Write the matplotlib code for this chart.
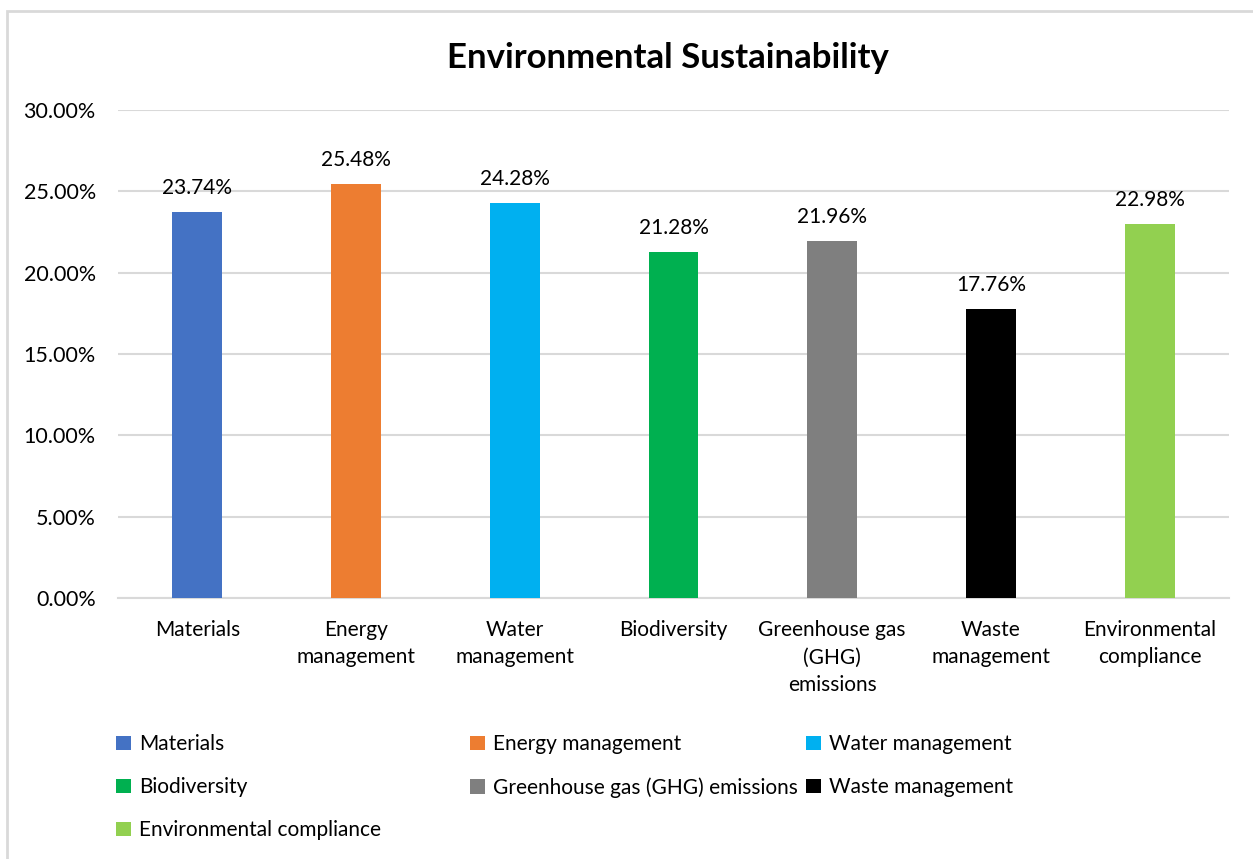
import matplotlib.pyplot as plt
from matplotlib.patches import Rectangle
from matplotlib.ticker import PercentFormatter

categories = ['Materials', 'Energy management', 'Water management', 'Biodiversity',
              'Greenhouse gas (GHG) emissions', 'Waste management', 'Environmental compliance']
tick_labels = ['Materials', 'Energy\nmanagement', 'Water\nmanagement', 'Biodiversity',
               'Greenhouse gas\n(GHG)\nemissions', 'Waste\nmanagement', 'Environmental\ncompliance']
values = [23.74, 25.48, 24.28, 21.28, 21.96, 17.76, 22.98]
colors = ['#4472C4', '#ED7D31', '#00B0F0', '#00B050', '#7F7F7F', '#000000', '#92D050']

plt.rcParams['font.family'] = ['Lato', 'DejaVu Sans']
W, H = 1253, 859
fig = plt.figure(figsize=(W / 100, H / 100), dpi=100)

# chart area border
fig.patches.append(Rectangle((7 / W, -0.1), 1.2, 1 - 11 / H + 0.1, transform=fig.transFigure,
                             fill=False, edgecolor='#d9d9d9', linewidth=2))

ax = fig.add_axes([118 / W, 1 - 598 / H, (1229 - 118) / W, (598 - 110) / H])
bars = ax.bar(range(len(values)), values, width=0.315, color=colors, zorder=3)

for b, v in zip(bars, values):
    ax.annotate(f'{v:.2f}%', (b.get_x() + b.get_width() / 2, v), xytext=(0, 10),
                textcoords='offset points', ha='center', va='bottom', fontsize=15)

ax.set_xlim(-0.5, len(values) - 0.5)
ax.set_ylim(0, 30)
ax.set_yticks([0, 5, 10, 15, 20, 25, 30])
ax.yaxis.set_major_formatter(PercentFormatter(decimals=2))
ax.set_xticks(range(len(values)))
ax.set_xticklabels(tick_labels, fontsize=15, linespacing=1.45)
ax.tick_params(axis='y', labelsize=15.5, length=0, pad=16)
ax.tick_params(axis='x', length=0, pad=16)
ax.grid(axis='y', color='#d9d9d9', linewidth=1.5, zorder=0)
for s in ['top', 'right', 'left']:
    ax.spines[s].set_visible(False)
ax.spines['bottom'].set_color('#d9d9d9')
ax.spines['bottom'].set_linewidth(1.5)

fig.text(668 / W, 1 - 58 / H, 'Environmental Sustainability', ha='center', va='center',
         fontsize=25, fontweight='bold')

# legend, row by row in three columns
col_x = [108, 462, 798]
for c in range(3):
    idx = list(range(c, len(values), 3))
    leg = fig.legend([bars[i] for i in idx], [categories[i] for i in idx],
                     loc='upper left', bbox_to_anchor=(col_x[c] / W, 1 - 726 / H),
                     frameon=False, fontsize=15, handlelength=0.7, handleheight=0.7,
                     handletextpad=0.4, labelspacing=1.1, borderaxespad=0)

fig.savefig('out.png', dpi=100)
